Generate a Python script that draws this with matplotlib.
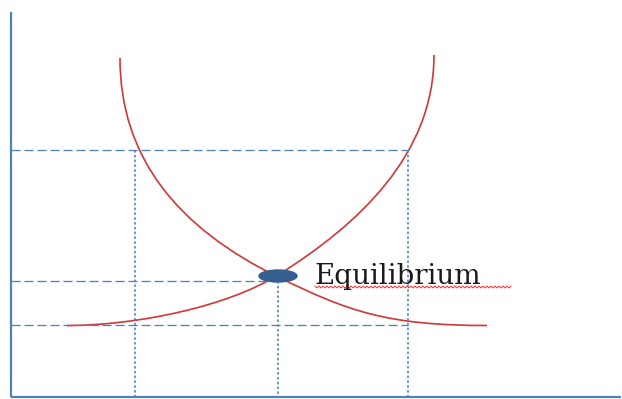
import numpy as np
import matplotlib.pyplot as plt
from matplotlib.patches import Ellipse, PathPatch
from matplotlib.path import Path

# everything in pixel units (y grows downwards)
# each curve = two cubic bezier pieces joined at the equilibrium point
demand_pts = [(120, 58), (120, 158), (178, 228), (278, 277),
              (348, 311.3), (387, 325.5), (487, 325.5)]
supply_pts = [(67, 325.5), (137, 325.5), (228, 306.3), (278, 275),
              (358, 225), (434, 155), (434, 55)]

# dashed guides: (y, x_end) and (x, y_start)
h_guides = [(150, 408), (281, 278), (325, 408)]
v_guides = [(135, 150), (278, 281), (408, 150)]

eq_point = (278, 276)
eq_label = "Equilibrium"

blue = '#4f81bd'
red = '#d03a3a'
px = 0.72  # one pixel in points at dpi 100

fig = plt.figure(figsize=(6.22, 3.99), dpi=100)
ax = fig.add_axes([0, 0, 1, 1])
ax.set_xlim(0, 622)
ax.set_ylim(399, 0)
ax.axis('off')

# axes lines
ax.plot([11, 11], [12, 397], color=blue, lw=2.2 * px, solid_capstyle='butt')
ax.plot([11, 621], [396.5, 396.5], color=blue, lw=2.2 * px, solid_capstyle='butt')

for y, xe in h_guides:
    ax.plot([11, xe], [y, y], color=blue, lw=1.3 * px, linestyle=(0, (7, 3)))
for x, ys in v_guides:
    ax.plot([x, x], [ys, 396], color=blue, lw=1.6 * px, linestyle=(0, (1.6, 1.4)))

codes = [Path.MOVETO] + [Path.CURVE4] * 6
for pts in (demand_pts, supply_pts):
    ax.add_patch(PathPatch(Path(pts, codes), fill=False, edgecolor=red,
                           lw=1.7 * px, capstyle='butt'))

ax.add_patch(Ellipse(eq_point, 38, 12, color='#365f91', zorder=5))

ax.text(314, 276, eq_label, family='DejaVu Serif', fontsize=20,
        va='center', ha='left', color='#1a1a1a')

# spell-check squiggle under the label
wx = np.arange(315, 512, 2)
wy = 287 + np.where(np.arange(len(wx)) % 2 == 0, -1, 1)
ax.plot(wx, wy, color='#ff2020', lw=0.9 * px)

fig.savefig('out.png', dpi=100)
